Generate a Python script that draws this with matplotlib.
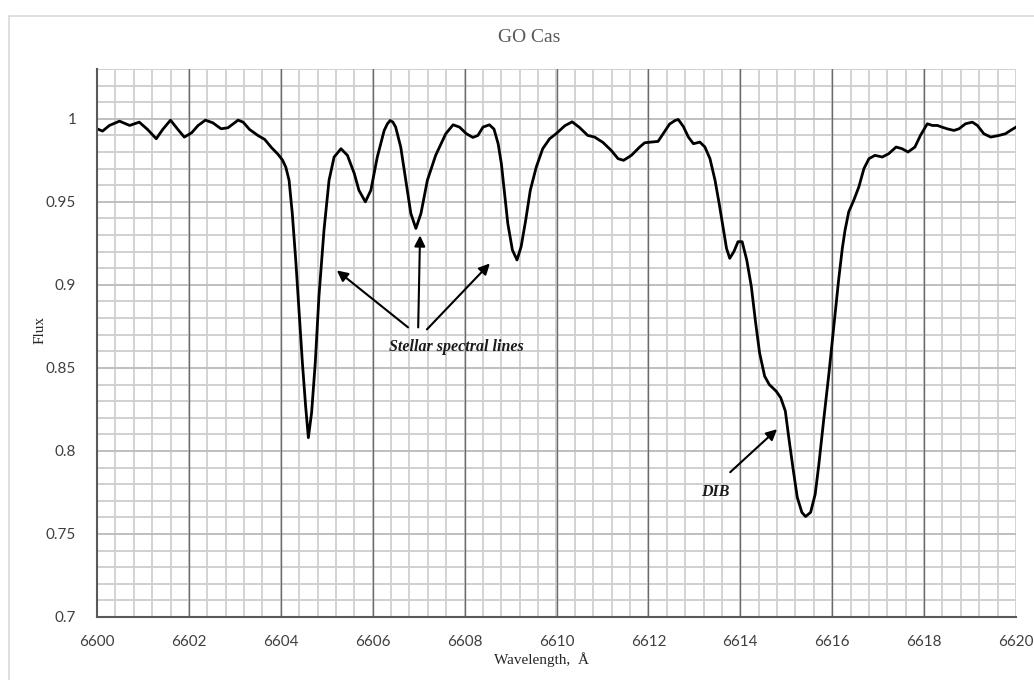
import matplotlib
matplotlib.use("Agg")
import matplotlib.pyplot as plt
from matplotlib.patches import Rectangle
import numpy as np

# spectrum
wavelength = [
    6600.00, 6600.12, 6600.27, 6600.49, 6600.71, 6600.92, 6601.10, 6601.29, 6601.43, 6601.60,
    6601.76, 6601.90, 6602.06, 6602.20, 6602.36, 6602.52, 6602.70, 6602.85, 6603.07, 6603.18,
    6603.32, 6603.50, 6603.65, 6603.80, 6603.94, 6604.04, 6604.11, 6604.18, 6604.25, 6604.33,
    6604.40, 6604.47, 6604.54, 6604.60, 6604.67, 6604.75, 6604.83, 6604.94, 6605.05, 6605.16,
    6605.31, 6605.45, 6605.60, 6605.70, 6605.84, 6605.96, 6606.10, 6606.25, 6606.32, 6606.38,
    6606.44, 6606.50, 6606.61, 6606.72, 6606.83, 6606.94, 6607.05, 6607.19, 6607.37, 6607.59,
    6607.75, 6607.89, 6608.04, 6608.18, 6608.29, 6608.40, 6608.54, 6608.64, 6608.73, 6608.80,
    6608.87, 6608.94, 6609.04, 6609.14, 6609.23, 6609.33, 6609.43, 6609.56, 6609.70, 6609.85,
    6609.99, 6610.18, 6610.34, 6610.50, 6610.68, 6610.83, 6611.01, 6611.19, 6611.34, 6611.46,
    6611.63, 6611.81, 6611.92, 6612.06, 6612.21, 6612.32, 6612.46, 6612.58, 6612.65, 6612.76,
    6612.87, 6612.98, 6613.12, 6613.23, 6613.34, 6613.45, 6613.54, 6613.63, 6613.70, 6613.77,
    6613.86, 6613.95, 6614.04, 6614.14, 6614.24, 6614.33, 6614.42, 6614.53, 6614.63, 6614.78,
    6614.88, 6614.98, 6615.06, 6615.15, 6615.24, 6615.34, 6615.42, 6615.53, 6615.63, 6615.71,
    6615.82, 6615.93, 6616.04, 6616.14, 6616.22, 6616.28, 6616.36, 6616.47, 6616.58, 6616.69,
    6616.80, 6616.93, 6617.09, 6617.23, 6617.39, 6617.52, 6617.65, 6617.80, 6617.92, 6618.07,
    6618.18, 6618.29, 6618.39, 6618.50, 6618.65, 6618.76, 6618.90, 6619.05, 6619.16, 6619.30,
    6619.45, 6619.63, 6619.77, 6619.88, 6620.00,
]
flux = [
    0.994, 0.9926, 0.996, 0.9986, 0.996, 0.998, 0.9936, 0.988, 0.9936, 0.9992,
    0.9936, 0.989, 0.9916, 0.996, 0.9992, 0.9976, 0.994, 0.9946, 0.9992, 0.998,
    0.9936, 0.990, 0.9876, 0.9826, 0.9786, 0.975, 0.9708, 0.963, 0.943, 0.913,
    0.883, 0.853, 0.827, 0.808, 0.823, 0.853, 0.893, 0.933, 0.963, 0.977,
    0.982, 0.978, 0.967, 0.957, 0.950, 0.957, 0.977, 0.993, 0.997, 0.999,
    0.998, 0.995, 0.983, 0.963, 0.943, 0.934, 0.943, 0.963, 0.978, 0.991,
    0.9964, 0.995, 0.991, 0.9888, 0.990, 0.995, 0.9964, 0.9938, 0.985, 0.973,
    0.955, 0.937, 0.921, 0.915, 0.923, 0.939, 0.957, 0.971, 0.982, 0.988,
    0.991, 0.9958, 0.9982, 0.9948, 0.990, 0.989, 0.9858, 0.981, 0.976, 0.975,
    0.978, 0.983, 0.9856, 0.986, 0.9864, 0.991, 0.9968, 0.999, 0.9996, 0.9954,
    0.989, 0.985, 0.986, 0.983, 0.976, 0.963, 0.949, 0.934, 0.922, 0.916,
    0.920, 0.926, 0.926, 0.915, 0.899, 0.878, 0.859, 0.845, 0.840, 0.836,
    0.832, 0.824, 0.807, 0.789, 0.772, 0.763, 0.7605, 0.763, 0.774, 0.792,
    0.820, 0.847, 0.876, 0.903, 0.922, 0.933, 0.944, 0.951, 0.959, 0.970,
    0.976, 0.978, 0.977, 0.979, 0.983, 0.982, 0.980, 0.983, 0.990, 0.997,
    0.996, 0.996, 0.995, 0.994, 0.993, 0.994, 0.997, 0.998, 0.996, 0.991,
    0.989, 0.990, 0.991, 0.993, 0.995,
]

x_ticks = [6600, 6602, 6604, 6606, 6608, 6610, 6612, 6614, 6616, 6618, 6620]
y_ticks = [0.7, 0.75, 0.8, 0.85, 0.9, 0.95, 1.0]
y_tick_labels = ["0.7", "0.75", "0.8", "0.85", "0.9", "0.95", "1"]

serif = "Liberation Serif"
sans = "Lato"

fig = plt.figure(figsize=(10.34, 6.8), dpi=100)
W, H = 1034, 680

# outer chart frame
fig.patches.append(Rectangle((9 / W, -0.1), 1.2, 1 - 16 / H + 0.1, transform=fig.transFigure,
                             fill=False, edgecolor="#d9d9d9", linewidth=1.2))

ax = fig.add_axes([97 / W, 1 - 617 / H, (1016 - 97) / W, (617 - 69) / H])
ax.set_xlim(6600, 6620)
ax.set_ylim(0.7, 1.03)

# grid lines
for xv in np.arange(6600, 6620.01, 0.4):
    ax.axvline(xv, color="#d0d0d0", lw=1.3, zorder=0)
for yv in np.arange(0.7, 1.0301, 0.01):
    major = abs(round(yv / 0.05) * 0.05 - yv) < 1e-6
    ax.axhline(yv, color="#bfbfbf" if major else "#d0d0d0", lw=1.4, zorder=0)
for xv in x_ticks[1:-1]:
    ax.axvline(xv, color="#6b6b6b", lw=1.0, zorder=1)

ax.plot(wavelength, flux, color="black", lw=2.0, zorder=3,
        solid_joinstyle="round", antialiased=True)

for s in ["top", "right"]:
    ax.spines[s].set_visible(False)
for s in ["left", "bottom"]:
    ax.spines[s].set_color("#595959")
    ax.spines[s].set_linewidth(1.5)
    ax.spines[s].set_zorder(4)

ax.set_xticks(x_ticks)
ax.set_xticklabels([str(v) for v in x_ticks])
ax.set_yticks(y_ticks)
ax.set_yticklabels(y_tick_labels)
ax.tick_params(axis="both", length=0, labelsize=11, labelcolor="#404040")
ax.tick_params(axis="x", pad=13)
ax.tick_params(axis="y", pad=15)
for lab in ax.get_xticklabels() + ax.get_yticklabels():
    lab.set_family(sans)

fig.text(529 / W, 1 - 38 / H, "GO Cas", ha="center", va="center", family=serif,
         fontsize=14, color="#595959")
fig.text(40 / W, 1 - 330 / H, "Flux", ha="center", va="center", rotation=90,
         family=serif, fontsize=11, color="#262626")
fig.text(542 / W, 1 - 660 / H, "Wavelength,  Å", ha="center", va="center",
         family=serif, fontsize=11, color="#262626")

arrow = dict(arrowstyle="-|>", color="black", lw=1.5, mutation_scale=16, shrinkA=0, shrinkB=0)
ax.annotate("", xy=(6605.22, 0.9087), xytext=(6606.77, 0.8744), arrowprops=arrow, zorder=5)
ax.annotate("", xy=(6607.03, 0.9298), xytext=(6606.99, 0.8744), arrowprops=arrow, zorder=5)
ax.annotate("", xy=(6608.55, 0.9129), xytext=(6607.18, 0.8732), arrowprops=arrow, zorder=5)
ax.text(6607.83, 0.8624, "Stellar spectral lines", ha="center", va="center", family=serif,
        fontsize=11.5, fontweight="bold", fontstyle="italic", color="#1a1a1a", zorder=5)

ax.annotate("", xy=(6614.80, 0.8131), xytext=(6613.78, 0.7872), arrowprops=arrow, zorder=5)
ax.text(6613.45, 0.7752, "DIB", ha="center", va="center", family=serif,
        fontsize=11.5, fontweight="bold", fontstyle="italic", color="#1a1a1a", zorder=5)

fig.savefig("out.png", dpi=100)
